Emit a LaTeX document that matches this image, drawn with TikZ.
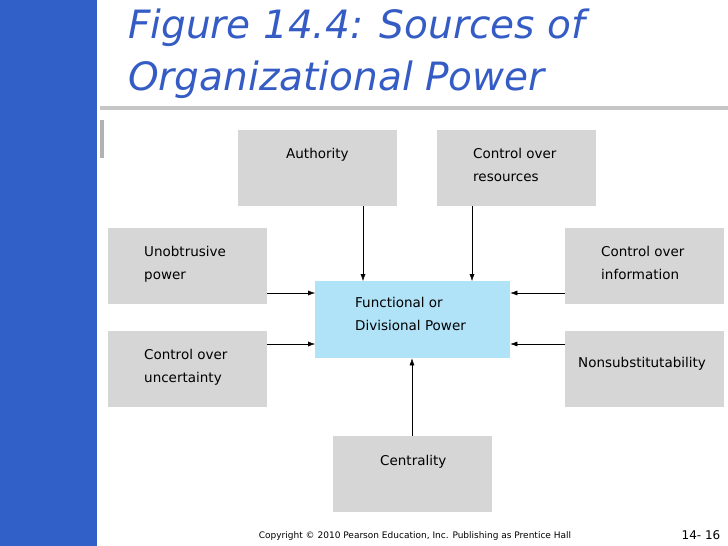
\documentclass[tikz,border=0pt]{standalone}
\usepackage{fontspec}
\setmainfont{DejaVu Sans}
\usetikzlibrary{positioning,arrows.meta}
\definecolor{barblue}{RGB}{48,96,200}
\definecolor{titleblue}{RGB}{52,92,196}
\definecolor{boxgray}{RGB}{214,214,214}
\definecolor{corecyan}{RGB}{176,226,248}
\begin{document}
\begin{tikzpicture}[x=1pt,y=-1pt,
	srcnode/.style={rectangle,fill=boxgray,minimum width=159pt,minimum height=76pt},
	corenode/.style={rectangle,fill=corecyan,minimum width=195pt,minimum height=77pt},
	txtnode/.style={anchor=north west,font=\fontsize{13.5}{23}\selectfont,align=left,inner sep=0pt},
	link/.style={-{Latex[length=7pt,width=5pt]},thin}
]
\useasboundingbox (0,0) rectangle (728,546);

% Rahmen
\fill[barblue] (0,0) rectangle (97,546);
\fill[gray!60] (100,120) rectangle (104,158);
\fill[gray!45] (100,106) rectangle (728,110);
\node[anchor=west,font=\fontsize{39}{42}\selectfont\itshape,text=titleblue,inner sep=0pt] (t1) at (128,28) {Figure 14.4: Sources of};
\node[anchor=west,font=\fontsize{39}{42}\selectfont\itshape,text=titleblue,inner sep=0pt] (t2) at (128,80) {Organizational Power};

% Kaesten
\node[srcnode,anchor=north west] (auth) at (238,130) {};
\node[srcnode,anchor=north west] (res) at (437,130) {};
\node[srcnode,anchor=north west] (unob) at (108,228) {};
\node[srcnode,anchor=north west] (info) at (565,228) {};
\node[corenode,anchor=north west] (core) at (315,281) {};
\node[srcnode,anchor=north west] (unc) at (108,331) {};
\node[srcnode,anchor=north west] (nons) at (565,331) {};
\node[srcnode,anchor=north west] (cent) at (333,436) {};

% Texte
\node[txtnode] at (286,148) {Authority};
\node[txtnode] at (473,148) {Control over\\resources};
\node[txtnode] at (144,246) {Unobtrusive\\power};
\node[txtnode] at (601,246) {Control over\\information};
\node[txtnode] at (355,297) {Functional or\\Divisional Power};
\node[txtnode] at (144,349) {Control over\\uncertainty};
\node[txtnode] at (578,357) {Nonsubstitutability};
\node[txtnode] at (380,455) {Centrality};

% Pfeile
\draw[link] (auth.south -| 363,0) -- (core.north -| 363,0);
\draw[link] (res.south -| 472,0) -- (core.north -| 472,0);
\draw[link] (unob.east |- 0,293) -- (core.west |- 0,293);
\draw[link] (unc.east |- 0,344) -- (core.west |- 0,344);
\draw[link] (info.west |- 0,293) -- (core.east |- 0,293);
\draw[link] (nons.west |- 0,344) -- (core.east |- 0,344);
\draw[link] (cent.north -| 412,0) -- (core.south -| 412,0);

% Fusszeile
\node[font=\fontsize{9}{11}\selectfont] (copy) at (415,536) {Copyright © 2010 Pearson Education, Inc. Publishing as Prentice Hall};
\node[font=\fontsize{12}{14}\selectfont] (page) at (701,535) {14- 16};
\end{tikzpicture}
\end{document}
